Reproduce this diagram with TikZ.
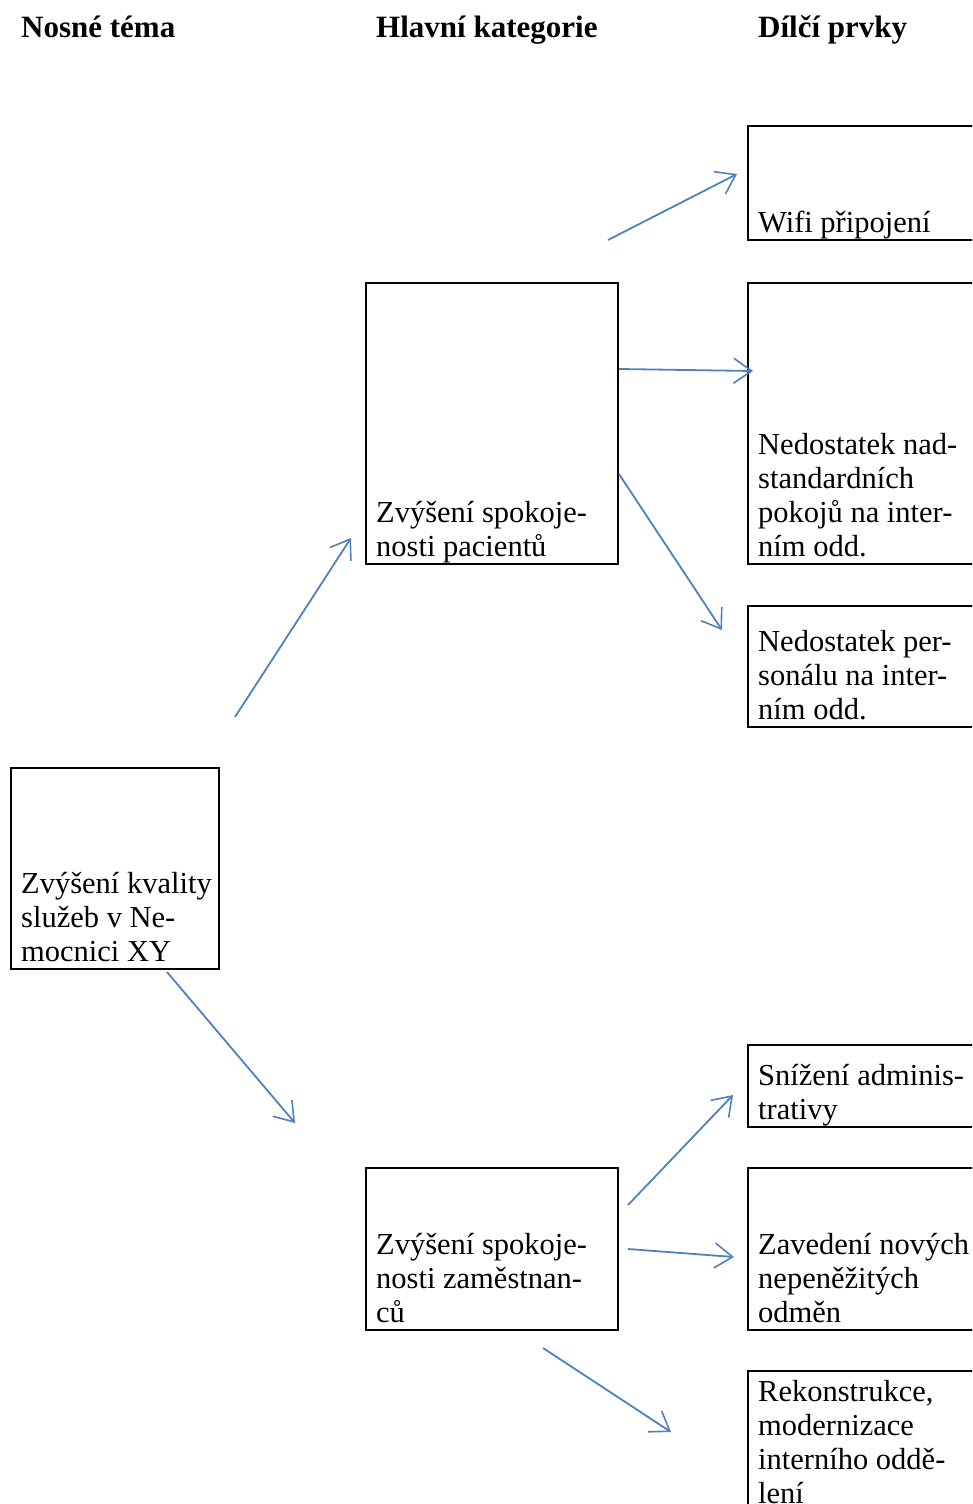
\documentclass[tikz,border=0pt]{standalone}
\usepackage{fontspec}
\setmainfont{Liberation Serif}
\usetikzlibrary{arrows.meta,calc}
\definecolor{arrowblue}{RGB}{79,129,189}
\begin{document}
\begin{tikzpicture}[x=1pt,y=-1pt,
  box/.style={draw=black, line width=1.6pt, rectangle, anchor=north west, inner sep=0pt, outer sep=0pt},
  boxtext/.style={anchor=south west, inner sep=0pt, align=left, font=\fontsize{30.5}{34}\selectfont},
  heading/.style={anchor=base west, inner sep=0pt, font=\fontsize{31}{36}\selectfont\bfseries},
  link/.style={draw=arrowblue, line width=1.8pt, -{Straight Barb[length=18pt,width=25pt,line width=1.6pt]}}
]
\clip (0,0) rectangle (972,1504);

% column headings
\node[heading] (h1) at (21,38) {Nosné téma};
\node[heading] (h2) at (376,38) {Hlavní kategorie};
\node[heading] (h3) at (758,38) {Dílčí prvky};

% boxes
\node[box, minimum width=208pt, minimum height=201pt] (root) at (11,768) {};
\node[box, minimum width=252pt, minimum height=281pt] (pat) at (366,283) {};
\node[box, minimum width=252pt, minimum height=162pt] (emp) at (366,1168) {};
\node[box, minimum width=240pt, minimum height=114pt] (wifi) at (748,126) {};
\node[box, minimum width=240pt, minimum height=281pt] (nad) at (748,283) {};
\node[box, minimum width=240pt, minimum height=121pt] (per) at (748,606) {};
\node[box, minimum width=240pt, minimum height=82pt] (adm) at (748,1045) {};
\node[box, minimum width=240pt, minimum height=162pt] (odm) at (748,1168) {};
\node[box, minimum width=240pt, minimum height=140pt] (rek) at (748,1371) {};

% texts, set on the bottom of each box
\node[boxtext] (rootT) at ($(root.south west)+(10,3.2)$) {Zvýšení kvality\strut\\služeb v Ne-\strut\\mocnici XY\strut};
\node[boxtext] (patT) at ($(pat.south west)+(10,3.2)$) {Zvýšení spokoje-\strut\\nosti pacientů\strut};
\node[boxtext] (empT) at ($(emp.south west)+(10,3.2)$) {Zvýšení spokoje-\strut\\nosti zaměstnan-\strut\\ců\strut};
\node[boxtext] (wifiT) at ($(wifi.south west)+(10,3.2)$) {Wifi připojení\strut};
\node[boxtext] (nadT) at ($(nad.south west)+(10,3.2)$) {Nedostatek nad-\strut\\standardních\strut\\pokojů na inter-\strut\\ním odd.\strut};
\node[boxtext] (perT) at ($(per.south west)+(10,3.2)$) {Nedostatek per-\strut\\sonálu na inter-\strut\\ním odd.\strut};
\node[boxtext] (admT) at ($(adm.south west)+(10,3.2)$) {Snížení adminis-\strut\\trativy\strut};
\node[boxtext] (odmT) at ($(odm.south west)+(10,3.2)$) {Zavedení nových\strut\\nepeněžitých\strut\\odměn\strut};
\node[boxtext] (rekT) at ($(rek.south west)+(10,3.2)$) {Rekonstrukce,\strut\\modernizace\strut\\interního oddě-\strut\\lení\strut};

% free-standing arrows
\coordinate (rpS) at (235,717);  \coordinate (rpE) at (351,538);
\coordinate (reS) at (167,972);  \coordinate (reE) at (295,1123);
\coordinate (pwS) at (608,240);  \coordinate (pwE) at (737,174);
\coordinate (pnS) at (619,369);  \coordinate (pnE) at (753,371);
\coordinate (ppS) at (619,474);  \coordinate (ppE) at (722,630);
\coordinate (eaS) at (628,1205); \coordinate (eaE) at (733,1095);
\coordinate (eoS) at (628,1249); \coordinate (eoE) at (734,1257);
\coordinate (erS) at (543,1348); \coordinate (erE) at (671,1432);

\draw[link] (rpS) -- (rpE);
\draw[link] (reS) -- (reE);
\draw[link] (pwS) -- (pwE);
\draw[link] (pnS) -- (pnE);
\draw[link] (ppS) -- (ppE);
\draw[link] (eaS) -- (eaE);
\draw[link] (eoS) -- (eoE);
\draw[link] (erS) -- (erE);
\end{tikzpicture}
\end{document}
